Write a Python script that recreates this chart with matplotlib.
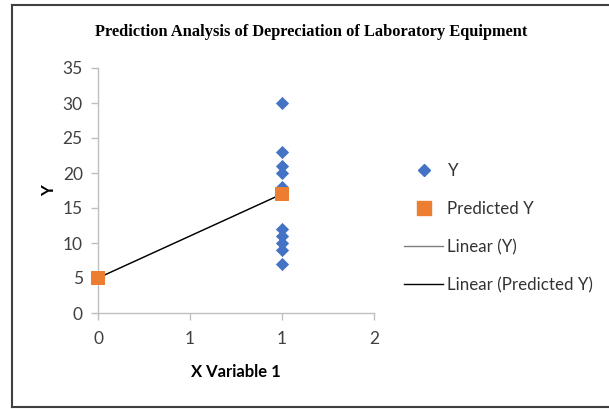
import matplotlib.pyplot as plt
from matplotlib.lines import Line2D

# data
x_obs = [1, 1, 1, 1, 1, 1, 1, 1, 1, 1, 0]
y_obs = [30, 23, 21, 20, 18, 12, 11, 10, 9, 7, 5]
x_pred = [0, 1]
y_pred = [5, 17]
x_ticks = [0, 0.5, 1, 1.5]
x_tick_labels = ["0", "1", "1", "2"]
y_ticks = [0, 5, 10, 15, 20, 25, 30, 35]

blue = "#4472C4"
orange = "#ED7D31"
sans = ["Lato", "DejaVu Sans"]

fig = plt.figure(figsize=(6.09, 4.09), dpi=100)
ax = fig.add_axes([98 / 609, 1 - 313 / 409, (374 - 98) / 609, (313 - 68) / 409])

# trendlines (both fits coincide)
ax.plot(x_pred, y_pred, color="#7f7f7f", linewidth=1.0, zorder=2)
ax.plot(x_pred, y_pred, color="black", linewidth=0.9, zorder=2)

ax.scatter(x_obs, y_obs, marker="D", s=45, color=blue, zorder=3, linewidths=0, clip_on=False)
ax.scatter(x_pred, y_pred, marker="s", s=95, color=orange, zorder=4, linewidths=0, clip_on=False)

ax.set_xlim(0, 1.5)
ax.set_ylim(0, 35)
ax.set_xticks(x_ticks)
ax.set_xticklabels(x_tick_labels)
ax.set_yticks(y_ticks)

for side in ["top", "right"]:
    ax.spines[side].set_visible(False)
for side in ["left", "bottom"]:
    ax.spines[side].set_color("#bfbfbf")
    ax.spines[side].set_linewidth(1.0)
ax.tick_params(axis="both", colors="#bfbfbf", length=5, width=1, direction="out",
               labelsize=12.5, labelcolor="#404040", pad=6)
ax.tick_params(axis="x", pad=8)
for lbl in ax.get_xticklabels() + ax.get_yticklabels():
    lbl.set_family(sans)

ax.set_xlabel("X Variable 1", fontsize=12, fontweight="bold", family=sans, labelpad=12)
ax.set_ylabel("Y", fontsize=12, fontweight="bold", family=sans, labelpad=4)

fig.text(311 / 609, 1 - 32 / 409, "Prediction Analysis of Depreciation of Laboratory Equipment",
         ha="center", va="center", fontsize=11.8, fontweight="bold",
         family=["Liberation Serif", "DejaVu Serif"])

handles = [
    Line2D([], [], marker="D", linestyle="none", color=blue, markersize=6.5),
    Line2D([], [], marker="s", linestyle="none", color=orange, markersize=9.5),
    Line2D([], [], color="#7f7f7f", linewidth=1),
    Line2D([], [], color="black", linewidth=1),
]
labels = ["Y", "Predicted Y", "Linear (Y)", "Linear (Predicted Y)"]
fig.legend(handles, labels, loc="center left", bbox_to_anchor=(389 / 609, 1 - 228 / 409),
           frameon=False, prop={"family": sans, "size": 12.2}, labelspacing=1.3,
           handlelength=2.3, handletextpad=0.25, labelcolor="#333333")

# outer border (right edge falls outside the picture)
left, top, bottom = 12 / 609, 1 - 5 / 409, 1 - 407 / 409
for xs, ys in [([left, left], [bottom, top]), ([left, 1], [top, top]), ([left, 1], [bottom, bottom])]:
    fig.add_artist(Line2D(xs, ys, transform=fig.transFigure, color="#404040", linewidth=1.5))

fig.savefig("out.png", dpi=100)
